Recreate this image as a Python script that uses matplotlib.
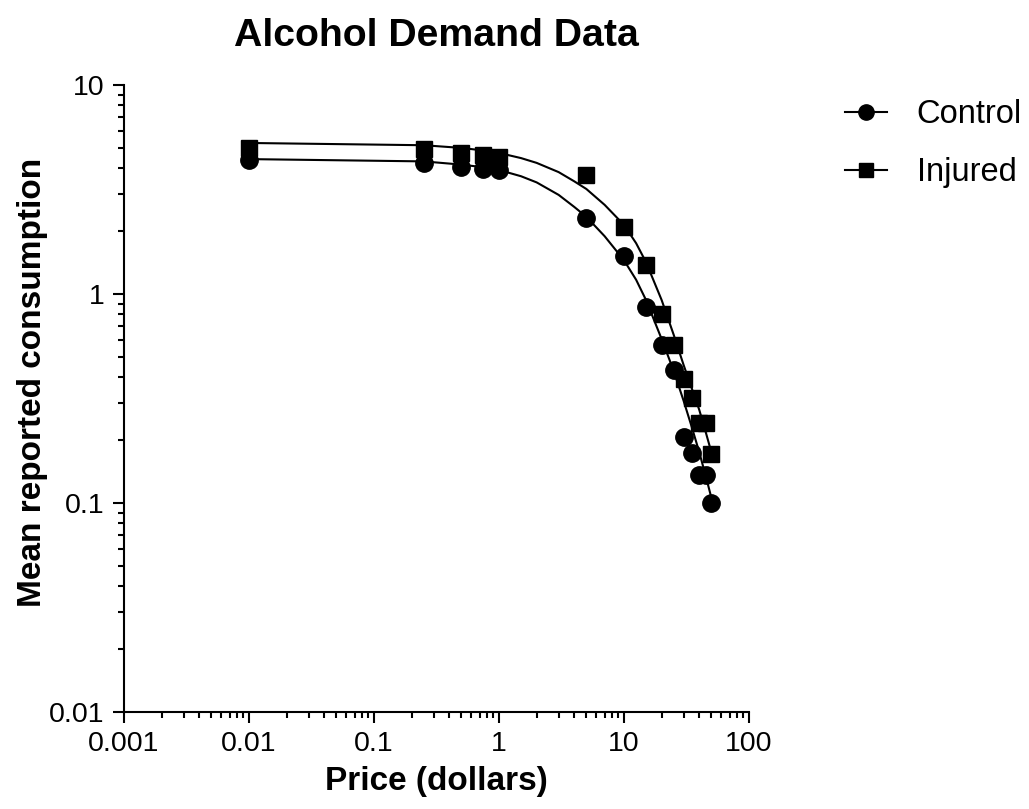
import matplotlib
matplotlib.use("Agg")
import matplotlib.pyplot as plt
from matplotlib.lines import Line2D
from matplotlib.ticker import FixedLocator, FixedFormatter, LogLocator, NullFormatter

# ---- data ----
price = [0.01, 0.25, 0.5, 0.75, 1, 5, 10, 15, 20, 25, 30, 35, 40, 45, 50]
control = [4.37, 4.24, 4.05, 3.96, 3.92, 2.31, 1.52, 0.867, 0.570, 0.433,
           0.207, 0.173, 0.136, 0.136, 0.100]
injured = [5.00, 4.94, 4.73, 4.63, 4.52, 3.71, 2.09, 1.38, 0.80, 0.570,
           0.392, 0.318, 0.241, 0.241, 0.171]

# fitted demand curves
curve_price = [0.01, 0.25, 0.5, 0.75, 1, 1.5, 2, 3, 4, 5, 7, 10, 12.5, 15,
               20, 25, 30, 35, 40, 45, 50]
control_fit = [4.42, 4.31, 4.16, 4.04, 3.92, 3.66, 3.42, 2.98, 2.61, 2.34,
               1.89, 1.45, 1.17, 0.936, 0.609, 0.428, 0.308, 0.229, 0.175,
               0.135, 0.106]
injured_fit = [5.28, 5.15, 5.00, 4.86, 4.73, 4.47, 4.24, 3.83, 3.46, 3.18,
               2.67, 2.14, 1.75, 1.42, 0.936, 0.637, 0.457, 0.351, 0.279,
               0.219, 0.175]

x_ticks = [0.001, 0.01, 0.1, 1, 10, 100]
x_tick_labels = ["0.001", "0.01", "0.1", "1", "10", "100"]
y_ticks = [0.01, 0.1, 1, 10]
y_tick_labels = ["0.01", "0.1", "1", "10"]

title = "Alcohol Demand Data"
x_label = "Price (dollars)"
y_label = "Mean reported consumption"
series_names = ["Control", "Injured"]

# ---- figure ----
plt.rcParams['font.family'] = ['Liberation Sans', 'DejaVu Sans']
fig = plt.figure(figsize=(10.29, 8.09), dpi=100)
ax = fig.add_axes([124 / 1029, 1 - 712 / 809, (749 - 124) / 1029, (712 - 85) / 809])

lw = 1.5
ax.plot(curve_price, control_fit, color='black', lw=lw, zorder=2)
ax.plot(curve_price, injured_fit, color='black', lw=lw, zorder=2)
ax.plot(price, injured, linestyle='none', marker='s', markersize=12,
        color='black', zorder=3)
ax.plot(price, control, linestyle='none', marker='o', markersize=12.5,
        color='black', zorder=4)

ax.set_xscale('log')
ax.set_yscale('log')
ax.set_xlim(x_ticks[0], x_ticks[-1])
ax.set_ylim(y_ticks[0], y_ticks[-1])

ax.xaxis.set_major_locator(FixedLocator(x_ticks))
ax.xaxis.set_major_formatter(FixedFormatter(x_tick_labels))
ax.yaxis.set_major_locator(FixedLocator(y_ticks))
ax.yaxis.set_major_formatter(FixedFormatter(y_tick_labels))
ax.xaxis.set_minor_locator(LogLocator(base=10, subs=range(2, 10), numticks=20))
ax.yaxis.set_minor_locator(LogLocator(base=10, subs=range(2, 10), numticks=20))
ax.xaxis.set_minor_formatter(NullFormatter())
ax.yaxis.set_minor_formatter(NullFormatter())

for s in ['top', 'right']:
    ax.spines[s].set_visible(False)
for s in ['left', 'bottom']:
    ax.spines[s].set_linewidth(1.5)
    ax.spines[s].set_color('black')

ax.tick_params(which='major', direction='out', length=8, width=1.5,
               labelsize=20.5, pad=6, color='black')
ax.tick_params(which='minor', direction='out', length=4.5, width=1.5,
               color='black')

ax.set_title(title, fontsize=28.3, fontweight='bold', pad=28)
ax.set_xlabel(x_label, fontsize=24, fontweight='bold', labelpad=6)
ax.set_ylabel(y_label, fontsize=24, fontweight='bold')
ax.yaxis.set_label_coords(-0.121, 0.526)

handles = [
    Line2D([], [], color='black', lw=lw, marker='o', markersize=11),
    Line2D([], [], color='black', lw=lw, marker='s', markersize=10.5),
]
fig.legend(handles, series_names, loc='upper left',
           bbox_to_anchor=(845 / 1029, 1 - 99 / 809), frameon=False,
           fontsize=23.5, handlelength=1.3, handletextpad=0.9,
           labelspacing=0.83, borderpad=0, borderaxespad=0)

fig.savefig("out.png", dpi=100)
